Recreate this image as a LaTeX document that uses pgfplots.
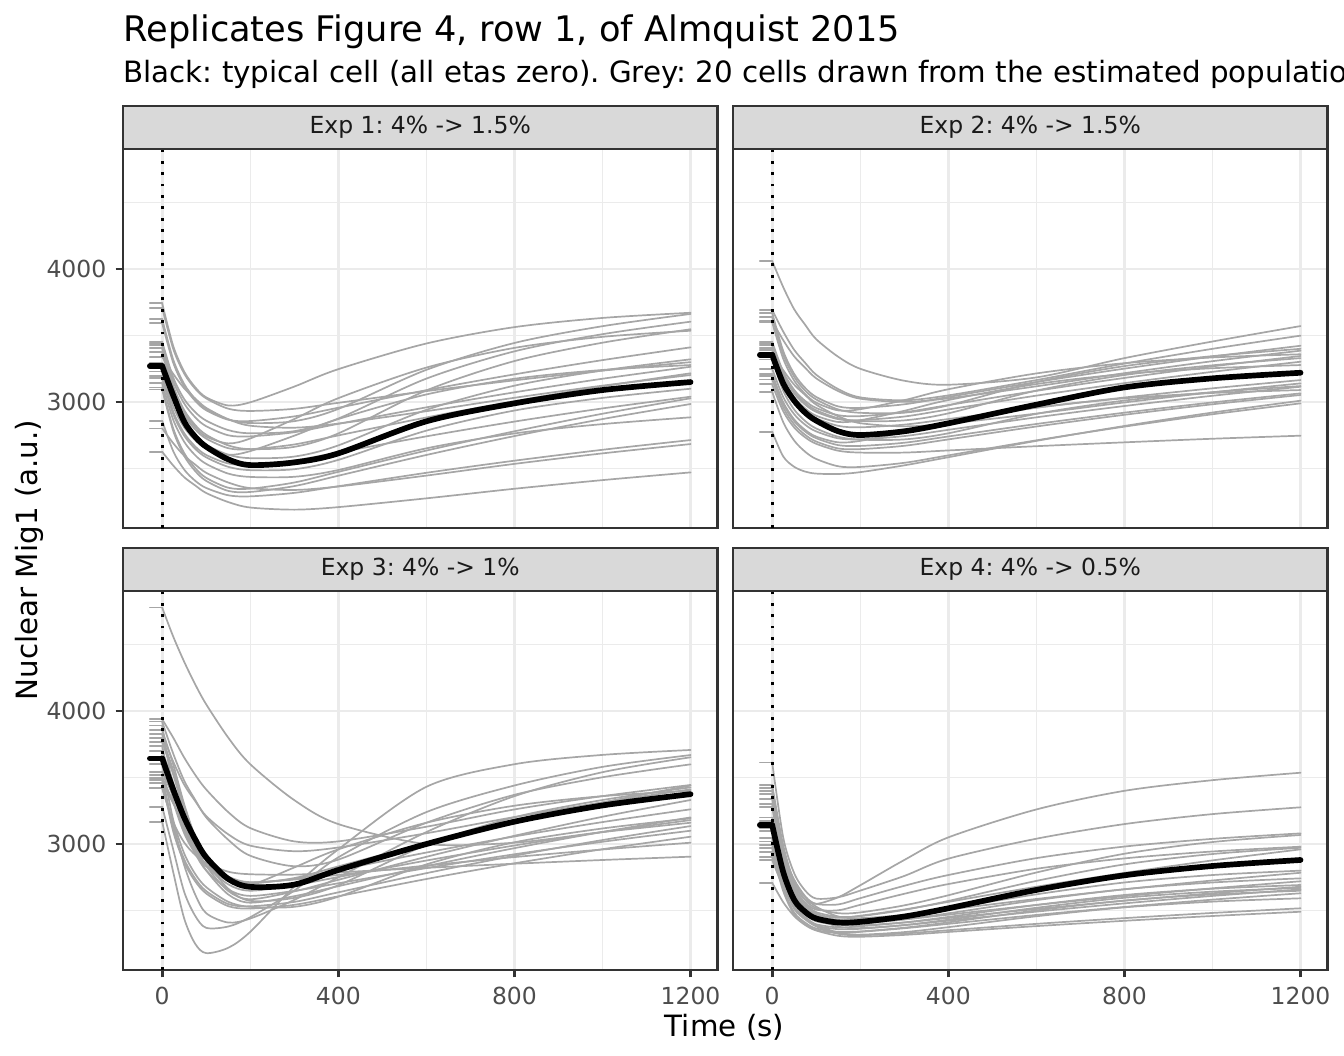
\documentclass[border=0pt]{standalone}
\usepackage{fontspec}
\setmainfont{DejaVu Sans}
\usepackage{pgfplots}
\usepackage{pgfplotstable}
\pgfplotsset{compat=1.18}
\definecolor{grey10}{HTML}{1A1A1A}
\definecolor{grey20}{HTML}{333333}
\definecolor{grey30}{HTML}{4D4D4D}
\definecolor{grey85}{HTML}{D9D9D9}
\definecolor{grey92}{HTML}{EBEBEB}
\definecolor{cellgrey}{HTML}{A6A6A6}
\frenchspacing

% Exp 1
\pgfplotstableread{
t c1 c2 c3 c4 c5 c6 c7 c8 c9 c10 c11 c12 c13 c14 c15 c16 c17 c18 c19 c20 k
-28 3742 3709 3624 3592 3453 3440 3429 3404 3374 3340 3295 3230 3198 3180 3141 3110 3095 2859 2802 2626 3270
0 3742 3709 3624 3592 3453 3440 3429 3404 3374 3340 3295 3230 3198 3180 3141 3110 3095 2859 2802 2626 3270
25 3422 3400 3319 3296 3185 3159 3124 3104 3080 3212 3016 2968 2929 2910 2867 2802 2784 2631 2691 2523 3050
50 3228 3214 3135 3117 3022 2989 2939 2922 2902 3103 2847 2809 2766 2747 2701 2616 2595 2492 2596 2435 2852
75 3111 3100 3023 3009 2924 2885 2827 2812 2794 3026 2744 2713 2666 2648 2600 2503 2481 2408 2530 2373 2739
100 3035 3027 2950 2938 2860 2818 2754 2740 2725 2956 2678 2650 2602 2584 2535 2430 2407 2354 2468 2316 2664
150 2974 2950 2870 2867 2789 2750 2674 2689 2653 2871 2604 2603 2538 2513 2462 2356 2332 2299 2395 2248 2569
200 2998 2933 2842 2857 2765 2742 2646 2726 2645 2822 2578 2631 2529 2488 2437 2349 2324 2291 2353 2207 2526
300 3116 2949 2856 2892 2781 2773 2663 2872 2681 2807 2590 2747 2561 2495 2438 2395 2368 2317 2339 2191 2546
400 3247 2994 2948 2957 2876 2836 2764 3029 2749 2838 2674 2872 2621 2565 2489 2475 2446 2367 2365 2210 2614
600 3440 3082 3242 3089 3176 2960 3087 3259 2884 2931 2941 3057 2742 2785 2652 2635 2602 2468 2447 2276 2855
800 3563 3163 3444 3208 3381 3073 3308 3407 3007 3032 3123 3175 2853 2936 2764 2780 2744 2559 2535 2348 2990
1000 3632 3236 3570 3315 3510 3175 3446 3490 3118 3123 3237 3241 2952 3031 2834 2912 2872 2641 2614 2413 3090
1200 3671 3300 3662 3411 3604 3265 3547 3536 3216 3203 3321 3278 3040 3100 2885 3028 2985 2714 2684 2471 3150
}\tabA

% Exp 2
\pgfplotstableread{
t c1 c2 c3 c4 c5 c6 c7 c8 c9 c10 c11 c12 c13 c14 c15 c16 c17 c18 c19 c20 k
-28 4060 3692 3671 3641 3609 3600 3453 3440 3429 3408 3391 3370 3320 3250 3211 3195 3170 3133 2777 3077 3355
0 4060 3692 3671 3641 3609 3600 3453 3440 3429 3408 3391 3370 3320 3250 3211 3195 3170 3133 2777 3077 3355
25 3864 3530 3384 3359 3465 3326 3228 3213 3201 3177 3159 3240 3085 3037 2998 2984 2959 2931 2591 2849 3140
50 3697 3392 3211 3189 3343 3161 3091 3075 3064 3037 3018 3130 2943 2908 2869 2856 2831 2808 2513 2710 3010
75 3580 3294 3106 3085 3257 3060 3008 2992 2980 2952 2933 3052 2857 2829 2790 2778 2753 2734 2477 2626 2920
100 3472 3205 3038 3019 3178 2995 2955 2938 2926 2897 2878 2980 2801 2779 2740 2728 2703 2686 2462 2572 2860
150 3340 3097 2967 2944 3082 2937 2901 2878 2871 2850 2821 2893 2739 2727 2697 2676 2651 2634 2459 2517 2780
200 3250 3035 2956 2919 3025 2946 2894 2857 2864 2863 2810 2841 2717 2720 2708 2670 2646 2620 2473 2512 2752
300 3160 3013 2983 2920 3001 3014 2923 2862 2891 2934 2830 2817 2719 2744 2773 2694 2671 2620 2524 2543 2780
400 3130 3050 3038 2975 3028 3096 2977 2915 2944 3015 2872 2838 2765 2791 2848 2741 2719 2636 2585 2599 2840
600 3185 3165 3150 3150 3118 3215 3084 3086 3048 3135 2957 2913 2911 2885 2958 2835 2816 2668 2708 2712 2980
800 3330 3289 3251 3270 3217 3292 3181 3203 3142 3211 3034 2997 3011 2970 3028 2920 2904 2697 2820 2815 3110
1000 3455 3400 3342 3345 3307 3335 3268 3276 3227 3254 3103 3073 3074 3047 3068 2997 2983 2724 2921 2908 3178
1200 3571 3499 3423 3400 3386 3359 3346 3330 3303 3278 3165 3140 3120 3115 3090 3065 3053 2747 3010 2990 3220
}\tabB

% Exp 3
\pgfplotstableread{
t c1 c2 c3 c4 c5 c6 c7 c8 c9 c10 c11 c12 c13 c14 c15 c16 c17 c18 c19 c20 k
-28 4777 3938 3168 3281 3419 3920 3890 3857 3825 3795 3769 3739 3700 3600 3544 3519 3499 3481 3460 3423 3644
0 4777 3938 3168 3281 3419 3920 3890 3857 3825 3795 3769 3739 3700 3600 3544 3519 3499 3481 3460 3423 3644
25 4560 3800 2790 2960 3150 3680 3415 3598 3620 3556 3523 3329 3464 3182 3359 3124 3315 3095 3306 3167 3410
50 4370 3650 2440 2640 2840 3476 3128 3299 3446 3281 3241 3081 3193 2929 3145 2885 3104 2862 3130 3012 3200
75 4200 3520 2250 2460 2620 3332 2953 3053 3323 3054 3008 2930 2968 2775 2969 2740 2929 2720 2984 2918 3035
100 4050 3410 2180 2370 2480 3200 2840 2871 3210 2887 2836 2833 2803 2676 2839 2646 2801 2628 2876 2858 2900
150 3800 3240 2220 2380 2410 3032 2723 2664 3073 2720 2647 2731 2621 2566 2697 2549 2659 2533 2756 2792 2738
200 3600 3120 2340 2450 2440 2912 2703 2573 2988 2692 2585 2711 2559 2528 2649 2532 2610 2515 2713 2773 2678
300 3330 3020 2680 2650 2580 2833 2744 2595 2946 2824 2644 2738 2608 2528 2690 2565 2648 2543 2733 2770 2695
400 3150 3020 2960 2900 2750 2883 2832 2690 2974 2960 2731 2804 2683 2604 2752 2637 2705 2607 2768 2787 2805
600 3000 3130 3430 3240 3090 3160 3008 2993 3081 3160 2904 2936 2833 2847 2876 2781 2819 2737 2838 2821 3000
800 3010 3260 3600 3440 3360 3370 3168 3201 3203 3288 3062 3057 2969 3013 2989 2912 2923 2855 2902 2852 3168
1000 3090 3360 3670 3580 3540 3502 3312 3331 3313 3360 3205 3165 3091 3117 3090 3030 3017 2961 2959 2880 3290
1200 3160 3444 3707 3669 3652 3599 3440 3426 3411 3400 3331 3261 3200 3193 3180 3135 3100 3055 3010 2905 3375
}\tabC

% Exp 4
\pgfplotstableread{
t c1 c2 c3 c4 c5 c6 c7 c8 c9 c10 c11 c12 c13 c14 c15 c16 c17 c18 c19 c20 k
-28 3420 3614 3444 3400 3374 3338 3300 3276 3200 3175 3120 3100 3043 3020 2992 2970 2942 2900 2880 2709 3143
0 3420 3614 3444 3400 3374 3338 3300 3276 3200 3175 3120 3100 3043 3020 2992 2970 2942 2900 2880 2709 3143
25 2960 3050 2991 2958 2935 2913 2887 2870 2927 2803 2770 2848 2720 2703 2767 2668 2647 2694 2677 2563 2790
50 2700 2780 2717 2692 2670 2657 2638 2625 2732 2578 2558 2668 2525 2512 2607 2485 2469 2546 2532 2458 2580
75 2585 2650 2604 2581 2561 2550 2535 2523 2607 2485 2470 2553 2444 2433 2504 2409 2396 2452 2439 2391 2490
100 2550 2590 2550 2517 2507 2488 2474 2464 2529 2431 2419 2481 2397 2386 2440 2365 2353 2393 2381 2350 2440
150 2600 2600 2546 2480 2502 2453 2445 2430 2455 2400 2393 2409 2373 2360 2379 2340 2331 2334 2325 2310 2410
200 2690 2650 2593 2486 2543 2458 2461 2434 2443 2403 2403 2390 2382 2363 2368 2343 2340 2319 2315 2303 2415
300 2880 2760 2686 2539 2626 2505 2508 2467 2467 2434 2433 2411 2410 2391 2390 2371 2367 2338 2328 2317 2455
400 3050 2890 2767 2615 2699 2572 2565 2515 2507 2479 2469 2452 2444 2431 2424 2411 2400 2375 2352 2339 2517
600 3260 3040 2894 2786 2814 2723 2679 2622 2587 2578 2542 2542 2512 2521 2492 2501 2467 2457 2400 2383 2655
800 3400 3150 2981 2927 2892 2847 2783 2711 2660 2660 2608 2617 2574 2596 2554 2575 2527 2524 2443 2423 2765
1000 3480 3225 3039 3015 2944 2925 2877 2767 2726 2711 2667 2664 2630 2642 2610 2621 2582 2567 2482 2459 2835
1200 3536 3276 3080 3068 2980 2972 2960 2800 2784 2742 2720 2692 2679 2670 2659 2649 2630 2592 2517 2491 2880
}\tabD

\pgfplotsset{
  panel/.style={
    scale only axis, width=222.9bp, height=142.125bp,
    xmin=-89, xmax=1261, ymin=2053, ymax=4902,
    xtick={0,400,800,1200}, minor xtick={200,600,1000},
    ytick={3000,4000}, minor ytick={2500,3500,4500},
    grid=both,
    major grid style={draw=grey92, line width=1.07bp},
    minor grid style={draw=grey92, line width=0.53bp},
    axis line style={draw=grey20, line width=1.07bp},
    tick style={draw=grey20, line width=1.07bp},
    major tick length=2.75bp, minor tick length=0pt,
    tick align=outside, tick pos=left,
    tick label style={font=\fontsize{8.8bp}{10bp}\selectfont, text=grey30},
    /pgf/number format/assume math mode=true,
    /pgf/number format/1000 sep={},
    title style={at={(0.5,1)}, anchor=south, yshift=-6pt,
      draw=grey20, fill=grey85, line width=1.07bp,
      minimum width=222.9bp, minimum height=16.125bp,
      inner sep=0pt, outer sep=0pt,
      font=\fontsize{8.8bp}{10bp}\selectfont, text=grey10},
  },
  noxlabels/.style={xticklabels={}, xtick style={draw=none}},
  noylabels/.style={yticklabels={}, ytick style={draw=none}},
  cell/.style={draw=cellgrey, line width=0.64bp, line cap=round, line join=round},
  typical/.style={draw=black, line width=2.13bp, line cap=round, line join=round},
  vzero/.style={draw=black, line width=1.07bp, dash pattern=on 1.07bp off 3.2bp},
}

\newcommand{\panelplots}[1]{%
  \pgfplotsinvokeforeach{1,...,20}{%
    \addplot[cell, restrict x to domain=-30:0] table[x=t, y=c##1] {#1};
    \addplot[cell, smooth, restrict x to domain=0:1300] table[x=t, y=c##1] {#1};
  }%
  \addplot[typical, restrict x to domain=-30:0] table[x=t, y=k] {#1};
  \addplot[typical, smooth, restrict x to domain=0:1300] table[x=t, y=k] {#1};
  \addplot[vzero] coordinates {(0,2053) (0,4902)};
}

\begin{document}
\begin{tikzpicture}
\useasboundingbox (0,0) rectangle (504bp,-396bp);

\begin{axis}[panel, noxlabels, at={(46.125bp,-55.875bp)}, anchor=north west,
  title={Exp 1: 4\% -> 1.5\%}]
\panelplots{\tabA}
\end{axis}

\begin{axis}[panel, noxlabels, noylabels, at={(274.875bp,-55.875bp)}, anchor=north west,
  title={Exp 2: 4\% -> 1.5\%}]
\panelplots{\tabB}
\end{axis}

\begin{axis}[panel, at={(46.125bp,-221.625bp)}, anchor=north west,
  title={Exp 3: 4\% -> 1\%}]
\panelplots{\tabC}
\end{axis}

\begin{axis}[panel, noylabels, at={(274.875bp,-221.625bp)}, anchor=north west,
  title={Exp 4: 4\% -> 0.5\%}]
\panelplots{\tabD}
\end{axis}

\node[anchor=base west, inner sep=0pt, font=\fontsize{13.2bp}{15bp}\selectfont]
  at (46.125bp,-15.6bp) {Replicates Figure 4, row 1, of Almquist 2015};
\node[anchor=base west, inner sep=0pt, font=\fontsize{11bp}{13bp}\selectfont]
  at (46.125bp,-31bp) {Black: typical cell (all etas zero). Grey: 20 cells drawn from the estimated population.};
\node[rotate=90, inner sep=0pt, font=\fontsize{11bp}{13bp}\selectfont]
  at (11.06bp,-210bp) {Nuclear Mig1 (a.u.)};
\node[anchor=base, inner sep=0pt, font=\fontsize{11bp}{13bp}\selectfont]
  at (271.7bp,-388.6bp) {Time (s)};
\end{tikzpicture}
\end{document}
